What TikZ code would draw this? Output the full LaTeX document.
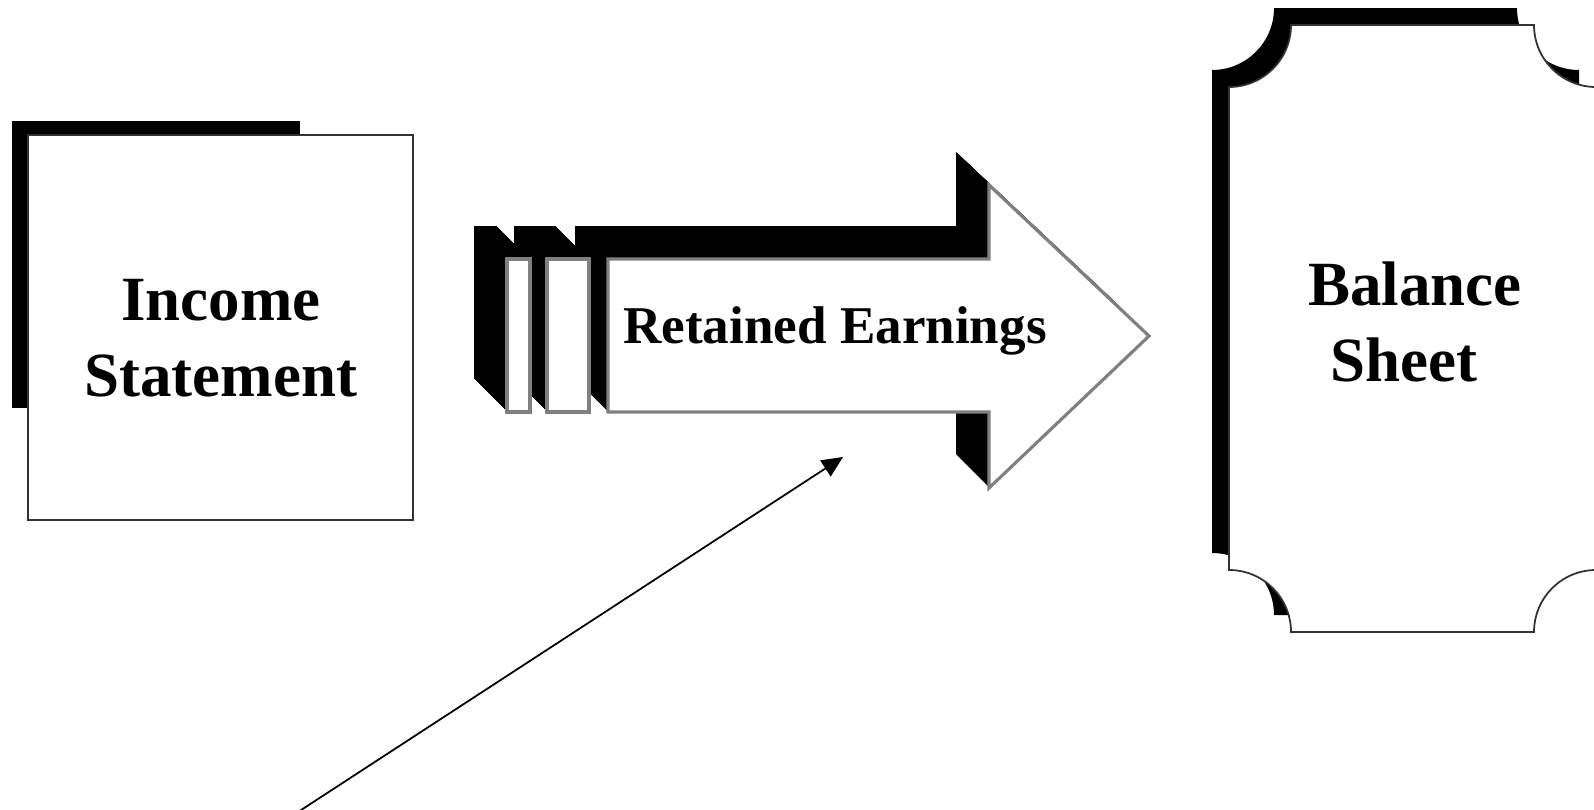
\documentclass[tikz,border=0pt]{standalone}
\usepackage{fontspec}
\setmainfont{Liberation Serif}
\usetikzlibrary{arrows.meta,positioning}
\definecolor{EdgeGray}{RGB}{128,128,128}
\definecolor{BoxLine}{RGB}{50,50,50}
\newcommand{\bodyoutline}{(608,259) -- (989,259) -- (989,185) -- (1149,336) -- (989,488) -- (989,412) -- (608,412) -- cycle}
\newcommand{\sheetoutline}{(1291,25) -- (1534,25) arc[start angle=180,end angle=90,radius=62] -- (1596,570) arc[start angle=270,end angle=180,radius=62] -- (1291,632) arc[start angle=0,end angle=-90,radius=62] -- (1229,87) arc[start angle=90,end angle=0,radius=62] -- cycle}

\begin{document}
\begin{tikzpicture}[x=0.01cm,y=-0.01cm,>=Latex,
  bigtext/.style={font=\bfseries\fontsize{17.9pt}{21.6pt}\selectfont,align=center},
  front/.style={fill=white,draw=EdgeGray,line width=0.9pt}]
\useasboundingbox (0,0) rectangle (1594,809);
\fill[white] (0,0) rectangle (1594,809);
% income statement
\fill (12,121) rectangle (300,408);
\node[draw=BoxLine,fill=white,line width=0.5pt,minimum width=3.85cm,minimum height=3.85cm] (income) at (220.75,327.75) {};
\node[bigtext,yshift=-0.1cm] (incometext) at (income) {Income\\Statement};
% retained earnings arrow, back to front
\foreach \k in {1,...,33} \fill[shift={(-\k,-\k)}] \bodyoutline;
\draw[front] \bodyoutline;
\foreach \k in {1,...,33} \fill[shift={(-\k,-\k)}] (547,259) rectangle (589,412);
\draw[front] (547,259) rectangle (589,412);
\foreach \k in {1,...,33} \fill[shift={(-\k,-\k)}] (507,259) rectangle (530,412);
\draw[front] (507,259) rectangle (530,412);
\node[font=\bfseries\fontsize{15.1pt}{18pt}\selectfont,anchor=base] (retained) at (835,343) {Retained Earnings};
% balance sheet
\fill[shift={(-17,-17)}] \sheetoutline;
\draw[fill=white,draw=BoxLine,line width=0.5pt] \sheetoutline;
\node[bigtext] (balance) at (1415,322) {Balance\\Sheet\hspace*{0.35em}};
% pointer
\coordinate (tail) at (298,812);
\coordinate (aim) at (843,457);
\draw[-{Triangle[length=0.21cm,width=0.19cm]},line width=0.5pt] (tail) -- (aim);
\end{tikzpicture}
\end{document}
